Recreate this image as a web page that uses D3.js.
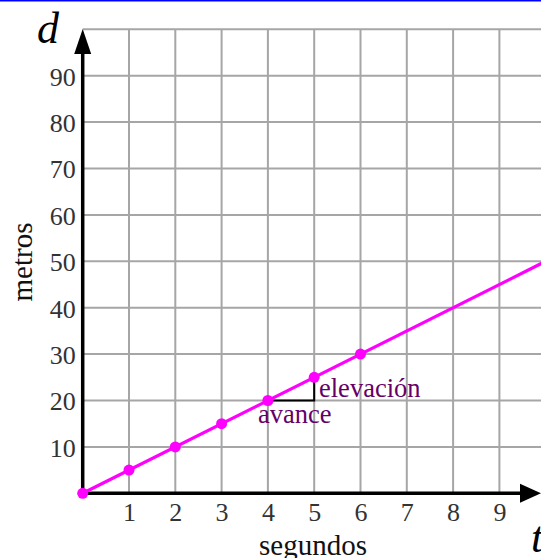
<!DOCTYPE html>
<html lang="es">
<head>
    <meta charset="UTF-8">
    <title>Distancia contra tiempo</title>
    <script src="https://cdn.jsdelivr.net/npm/d3@7/dist/d3.min.js"></script>
    <style>
        html, body { margin: 0; padding: 0; background: #fff; }
        svg { display: block; }
        text { font-family: "Liberation Serif", "Times New Roman", serif; }
    </style>
</head>
<body>
<div id="chart"></div>

<script>
    // data
    const xTicks = [1, 2, 3, 4, 5, 6, 7, 8, 9];
    const yTicks = [10, 20, 30, 40, 50, 60, 70, 80, 90];
    const seconds = [0, 1, 2, 3, 4, 5, 6];
    const meters = [0, 5, 10, 15, 20, 25, 30];
    const lineEnd = [10, 50];
    const runStart = [4, 20];
    const runEnd = [5, 20];
    const riseEnd = [5, 25];

    const width = 541;
    const height = 558;

    const x = d3.scaleLinear().domain([0, 10]).range([82.7, 545.7]);
    const y = d3.scaleLinear().domain([0, 100]).range([493.3, 29.3]);

    const svg = d3.select("#chart")
        .append("svg")
        .attr("width", width)
        .attr("height", height);

    // blue rule at the very top
    svg.append("line")
        .attr("x1", 0).attr("x2", width)
        .attr("y1", 0.75).attr("y2", 0.75)
        .attr("stroke", "#0000ff")
        .attr("stroke-width", 1.5);

    // grid
    const grid = svg.append("g").attr("stroke", "#a6a6a6").attr("stroke-width", 2);
    grid.selectAll("line.v").data(xTicks).enter()
        .append("line")
        .attr("class", "v")
        .attr("x1", d => x(d)).attr("x2", d => x(d))
        .attr("y1", y(0)).attr("y2", y(100));
    grid.selectAll("line.h").data(yTicks.concat([100])).enter()
        .append("line")
        .attr("class", "h")
        .attr("x1", x(0)).attr("x2", width)
        .attr("y1", d => y(d)).attr("y2", d => y(d));

    // tick labels through d3 axes
    const yAxis = svg.append("g")
        .attr("transform", "translate(" + x(0) + ",0)")
        .call(d3.axisLeft(y).tickValues(yTicks).tickSize(0).tickPadding(7));
    const xAxis = svg.append("g")
        .attr("transform", "translate(0," + y(0) + ")")
        .call(d3.axisBottom(x).tickValues(xTicks).tickSize(0).tickPadding(9));
    [xAxis, yAxis].forEach(function (g) {
        g.select(".domain").remove();
        g.selectAll("text")
            .attr("font-family", "Liberation Serif, serif")
            .attr("font-size", 26)
            .attr("fill", "#333");
    });
    yAxis.selectAll("text").attr("dy", "0.36em");

    // axis lines with arrow heads
    svg.append("line")
        .attr("x1", x(0)).attr("x2", x(0))
        .attr("y1", y(0) + 1.5).attr("y2", 52)
        .attr("stroke", "#000").attr("stroke-width", 3.5);
    svg.append("path")
        .attr("d", "M" + x(0) + ",29 L" + (x(0) - 8.5) + ",54 L" + (x(0) + 8.5) + ",54 Z")
        .attr("fill", "#000");
    svg.append("line")
        .attr("x1", x(0) - 1.5).attr("x2", 523)
        .attr("y1", y(0)).attr("y2", y(0))
        .attr("stroke", "#000").attr("stroke-width", 3.5);
    svg.append("path")
        .attr("d", "M541," + y(0) + " L520," + (y(0) - 9.5) + " L520," + (y(0) + 9.5) + " Z")
        .attr("fill", "#000");

    // rise / run
    svg.append("path")
        .attr("d", d3.line()([[x(runStart[0]), y(runStart[1])], [x(runEnd[0]), y(runEnd[1])], [x(riseEnd[0]), y(riseEnd[1])]]))
        .attr("fill", "none")
        .attr("stroke", "#000")
        .attr("stroke-width", 2);

    // the line and its points
    const lineData = [[0, 0], lineEnd];
    svg.append("path")
        .datum(lineData)
        .attr("d", d3.line().x(d => x(d[0])).y(d => y(d[1])))
        .attr("stroke", "#ff00ff")
        .attr("stroke-width", 3.2)
        .attr("fill", "none");
    svg.selectAll("circle.pt").data(seconds).enter()
        .append("circle")
        .attr("class", "pt")
        .attr("cx", d => x(d))
        .attr("cy", (d, i) => y(meters[i]))
        .attr("r", 5.5)
        .attr("fill", "#ff00ff");

    // annotations
    svg.append("text")
        .attr("x", 319).attr("y", 397)
        .attr("font-size", 26.5)
        .attr("fill", "#660066")
        .text("elevación");
    svg.append("text")
        .attr("x", 258).attr("y", 423)
        .attr("font-size", 26.5)
        .attr("fill", "#660066")
        .text("avance");

    // axis titles
    svg.append("text")
        .attr("x", 37).attr("y", 43)
        .attr("font-size", 44)
        .attr("font-style", "italic")
        .attr("fill", "#000")
        .text("d");
    svg.append("text")
        .attr("x", 531).attr("y", 552)
        .attr("font-size", 44)
        .attr("font-style", "italic")
        .attr("fill", "#000")
        .text("t");
    svg.append("text")
        .attr("transform", "translate(32,262) rotate(-90)")
        .attr("text-anchor", "middle")
        .attr("font-size", 29)
        .attr("fill", "#111")
        .text("metros");
    svg.append("text")
        .attr("x", 313).attr("y", 555)
        .attr("text-anchor", "middle")
        .attr("font-size", 29)
        .attr("fill", "#111")
        .text("segundos");
</script>
</body>
</html>
